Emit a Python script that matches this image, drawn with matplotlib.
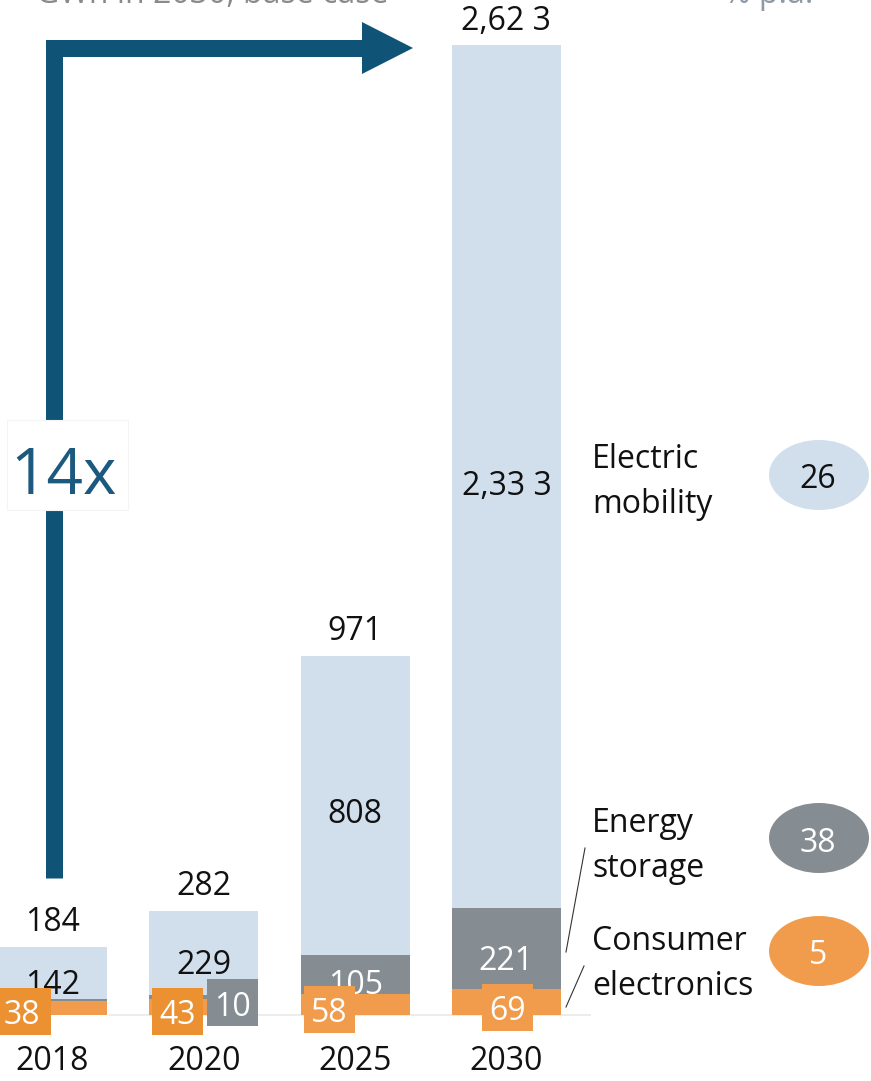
import matplotlib
matplotlib.use("Agg")
import matplotlib.pyplot as plt
from matplotlib.patches import Rectangle, Ellipse, Polygon

# ---------------- data ----------------
years = ["2018", "2020", "2025", "2030"]
consumer = [38, 43, 58, 69]
storage = [4, 10, 105, 221]
mobility = [142, 229, 808, 2333]
totals = [184, 282, 971, 2623]
total_labels = ["184", "282", "971", "2,62 3"]
mobility_labels = ["142", "229", "808", "2,33 3"]
segments = ["Electric\nmobility", "Energy\nstorage", "Consumer\nelectronics"]
cagr = ["26", "38", "5"]
growth_label = "14x"

# ---------------- style ----------------
C_BLUE = "#D1DFEC"
C_GRAY = "#858C92"
C_ORANGE = "#F19C4C"
C_ORANGE_DK = "#EB9131"
C_ARROW = "#0F5477"
FONT = "Open Sans"
plt.rcParams["font.family"] = [FONT, "DejaVu Sans"]

W, H = 871, 1081
fig = plt.figure(figsize=(W / 100, H / 100), dpi=100)
ax = fig.add_axes([0, 0, 1, 1])
ax.axis("off")

step_px = 151.3
x0_px = 52.5
XMIN = -x0_px / step_px
XMAX = (W - x0_px) / step_px
ppu = 970.0 / 2623
YMAX = 1015 / ppu
YMIN = -(H - 1015) / ppu
ax.set_xlim(XMIN, XMAX)
ax.set_ylim(YMIN, YMAX)


def P(xp, yp):
    """pixel (from top-left) -> data coords"""
    return (XMIN + xp / W * (XMAX - XMIN), YMAX - yp / H * (YMAX - YMIN))


def dw(px):
    return px / W * (XMAX - XMIN)


def dh(px):
    return px / H * (YMAX - YMIN)


DY = 5  # optical correction: digits sit a little low relative to bbox centre
xs = list(range(len(years)))
bw = 109 / step_px

# faint baseline
ax.plot([P(110, 0)[0], P(590, 0)[0]], [0, 0], color="#ececec", lw=1.5, zorder=0)

# stacked bars
bottom2 = [c + s for c, s in zip(consumer, storage)]
ax.bar(xs, consumer, bw, color=C_ORANGE, zorder=2)
ax.bar(xs, storage, bw, bottom=consumer, color=C_GRAY, zorder=2)
ax.bar(xs, mobility, bw, bottom=bottom2, color=C_BLUE, zorder=2)

TS = 23  # text size

# totals above bars
for x, t, lab in zip(xs, totals, total_labels):
    ax.text(x, t + dh(24), lab, ha="center", va="center", fontsize=TS, color="#111111", zorder=5)

# mobility labels
mob_pix = [980, 960, 810, 482]
for x, lab, yp in zip(xs, mobility_labels, mob_pix):
    ax.text(x, P(0, yp + DY)[1], lab, ha="center", va="center", fontsize=TS, color="#111111", zorder=5)

# storage labels (2020 in a box, 2025/2030 on the segment)
ax.add_patch(Rectangle(P(207, 1026), dw(51), dh(47), color=C_GRAY, zorder=4, lw=0))
ax.text(P(232, 0)[0], P(0, 1002 + DY)[1], str(storage[1]), ha="center", va="center",
        fontsize=TS, color="white", zorder=6)
ax.text(xs[2], P(0, 980 + DY)[1], str(storage[2]), ha="center", va="center",
        fontsize=TS, color="white", zorder=5)
ax.text(xs[3], P(0, 957 + DY)[1], str(storage[3]), ha="center", va="center",
        fontsize=TS, color="white", zorder=5)

# consumer labels in orange boxes
boxes = [(0, 988, C_ORANGE_DK), (152, 988, C_ORANGE_DK), (304, 986, C_ORANGE), (482, 984, C_ORANGE)]
for (bx, by, col), v in zip(boxes, consumer):
    ax.add_patch(Rectangle(P(bx, by + 47), dw(51), dh(47), color=col, zorder=6, lw=0))
    cx = bx + 25.5 if bx > 0 else 22
    ax.text(P(cx, 0)[0], P(0, by + 23 + DY)[1], str(v), ha="center", va="center",
            fontsize=TS, color="white", zorder=7)

# year labels
for x, y in zip(xs, years):
    ax.text(x, P(0, 1062)[1], y, ha="center", va="center", fontsize=TS, color="#111111")

# growth arrow
pts = [P(54, 878), P(54, 48), P(366, 48)]
ax.plot([p[0] for p in pts], [p[1] for p in pts], color=C_ARROW, lw=17 * 0.72,
        solid_joinstyle="miter", solid_capstyle="butt", zorder=3)
ax.add_patch(Polygon([P(362, 22), P(413, 48), P(362, 74)], closed=True, color=C_ARROW, lw=0, zorder=3))
ax.add_patch(Rectangle(P(7, 510), dw(121), dh(90), facecolor="white", edgecolor="#f4f4f4", lw=0.8, zorder=4))
ax.text(P(63, 0)[0], P(0, 477)[1], growth_label, ha="center", va="center", fontsize=46,
        color="#1B5A7E", zorder=5)

# segment labels and CAGR ellipses
seg_y = [482, 846, 964]
ell_y = [475, 838, 951]
ell_col = [C_BLUE, C_GRAY, C_ORANGE]
ell_txt = ["#111111", "white", "white"]
for lab, yp, ey, ec, tc, v in zip(segments, seg_y, ell_y, ell_col, ell_txt, cagr):
    ax.text(P(592, 0)[0], P(0, yp)[1], lab, ha="left", va="center", fontsize=TS,
            color="#111111", linespacing=1.45)
    ax.add_patch(Ellipse(P(819, ey), dw(100), dh(70), color=ec, lw=0, zorder=3))
    ax.text(P(818, 0)[0], P(0, ey + DY)[1], v, ha="center", va="center", fontsize=TS,
            color=tc, zorder=4)

# leader lines
for (a, b) in [((585, 848), (566, 952)), ((584, 966), (566, 1007))]:
    pa, pb = P(*a), P(*b)
    ax.plot([pa[0], pb[0]], [pa[1], pb[1]], color="#333333", lw=0.8)

# cut-off header text (cropped at the top edge, as in the reference)
ax.text(P(388, 0)[0], P(0, 3)[1], "GWh in 2030, base case", ha="right", va="baseline",
        fontsize=TS, color="#8a8a8a")
ax.text(P(813, 0)[0], P(0, 3)[1], "% p.a.", ha="right", va="baseline",
        fontsize=TS, color="#8d9aa6")

fig.savefig("out.png", dpi=100)
